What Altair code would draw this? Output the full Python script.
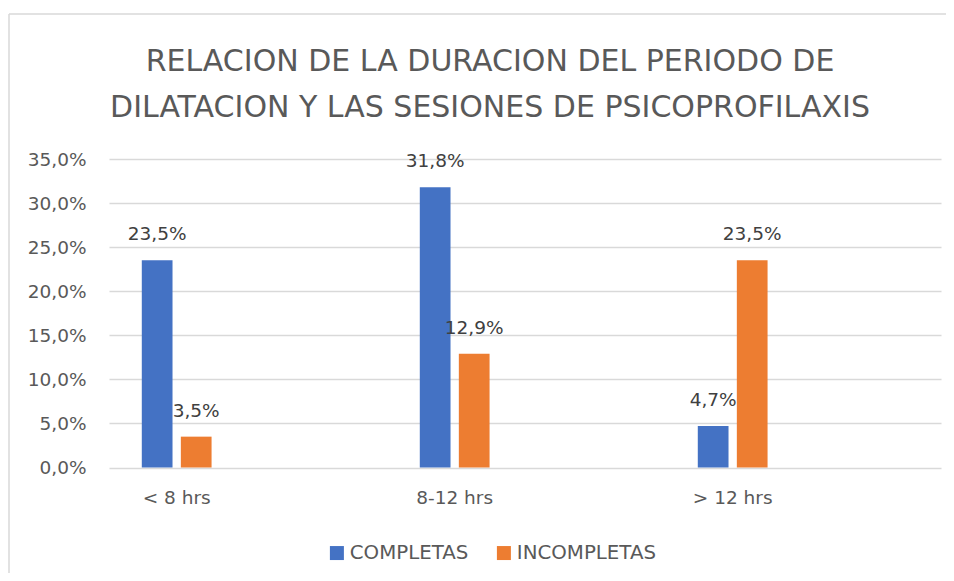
import altair as alt
import pandas as pd

categories = ["< 8 hrs", "8-12 hrs", "> 12 hrs"]
series = ["COMPLETAS", "INCOMPLETAS"]
completas = [23.5, 31.8, 4.7]
incompletas = [3.5, 12.9, 23.5]
y_ticks = [0, 5, 10, 15, 20, 25, 30, 35]
colors = ["#4472C4", "#ED7D31"]
title_lines = ["RELACION DE LA DURACION DEL PERIODO DE",
               "DILATACION Y LAS SESIONES DE PSICOPROFILAXIS"]

rows = []
for i, c in enumerate(categories):
    rows.append({"cat": c, "serie": series[0], "val": completas[i]})
    rows.append({"cat": c, "serie": series[1], "val": incompletas[i]})
df = pd.DataFrame(rows)

FONT = "DejaVu Sans"
W, H = 832, 308.5

base = alt.Chart(df).transform_calculate(
    label="replace(format(datum.val, '.1f'), '.', ',') + '%'"
).encode(
    x=alt.X("cat:N", sort=categories, title=None,
            scale=alt.Scale(paddingInner=0.749, paddingOuter=0.3709, align=0.159),
            axis=alt.Axis(labelAngle=0, domain=False, ticks=False, grid=False,
                          labelPadding=21, labelFontSize=18.5, labelFont=FONT,
                          labelColor="#595959")),
    xOffset=alt.XOffset("serie:N", sort=series,
                        scale=alt.Scale(paddingInner=0.213, paddingOuter=0)),
    y=alt.Y("val:Q", title=None,
            scale=alt.Scale(domain=[0, 35], nice=False),
            axis=alt.Axis(values=y_ticks,
                          labelExpr="replace(format(datum.value, '.1f'), '.', ',') + '%'",
                          domain=False, ticks=False, grid=True,
                          gridColor="#d9d9d9", gridWidth=1.5,
                          labelPadding=23, labelFontSize=18.5, labelFont=FONT,
                          labelColor="#595959")),
)

bars = base.mark_bar().encode(
    color=alt.Color("serie:N", sort=series,
                    scale=alt.Scale(domain=series, range=colors),
                    legend=alt.Legend(orient="none", legendX=218, legendY=384,
                                      direction="horizontal", title=None,
                                      symbolType="square", symbolSize=196,
                                      symbolStrokeWidth=0, labelFontSize=19.8,
                                      labelFont=FONT, labelColor="#595959",
                                      labelOffset=3, columnPadding=25))
)

labels = base.mark_text(dy=-20, baseline="alphabetic", fontSize=18.5,
                        font=FONT, color="#404040").encode(text="label:N")

frame_df = pd.DataFrame({"a": [0]})
border_top = alt.Chart(frame_df).mark_rule(color="#d9d9d9", strokeWidth=1.5).encode(
    x=alt.value(-100), x2=alt.value(2000), y=alt.value(-145))
border_left = alt.Chart(frame_df).mark_rule(color="#d9d9d9", strokeWidth=1.5).encode(
    x=alt.value(-100), y=alt.value(-145), y2=alt.value(2000))

chart = alt.layer(border_top, border_left, bars, labels).properties(
    width=W, height=H,
    title=alt.TitleParams(text=title_lines, fontSize=30, font=FONT,
                          fontWeight="normal", color="#595959",
                          anchor="middle", frame="group", dx=-35,
                          offset=-110, lineHeight=46.7),
    autosize=alt.AutoSizeParams(type="none"),
    padding={"left": 101, "top": 151, "right": 5, "bottom": 105},
).configure_view(stroke=None)

chart.save("out.html", embed_options={"renderer": "svg", "actions": False})
